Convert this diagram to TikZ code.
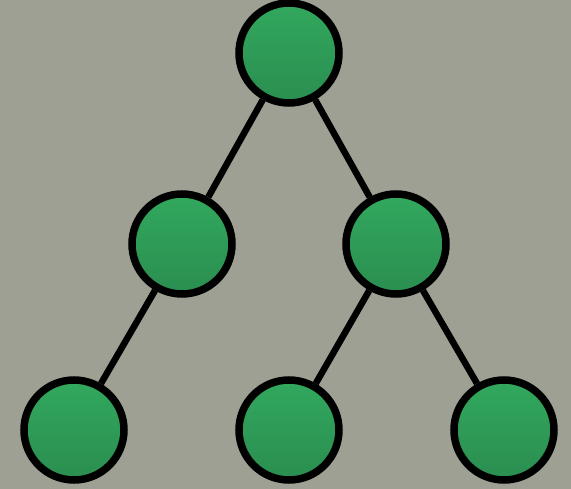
\documentclass[tikz,border=0pt]{standalone}
\usepackage{tikz}
\usetikzlibrary{positioning,calc}
\definecolor{bgrey}{RGB}{158,160,148}
\definecolor{leafhi}{RGB}{50,168,94}
\definecolor{leaflo}{RGB}{42,142,80}
\tikzset{vert/.style={circle,draw=black,line width=0.15cm,minimum size=2.0cm,inner sep=0pt,top color=leafhi,bottom color=leaflo},
	edg/.style={line width=0.13cm,black}}

\begin{document}
\begin{tikzpicture}
	   	\fill[bgrey] (0,0) rectangle (11.42,9.78);
	   	\useasboundingbox (0,0) rectangle (11.42,9.78);
	   	\def\lo{1.18}
	   	\def\mi{4.90}
	   	\node[vert] (r) at (5.78,8.72) {};
	   	\node[vert] (a) at (3.64,\mi) {};
	   	\node[vert] (b) at (7.92,\mi) {};
	   	\node[vert] (a1) at (1.48,\lo) {};
	   	\node[vert] (b1) at (5.78,\lo) {};
	   	\node[vert] (b2) at (10.08,\lo) {};
	   	\foreach \p/\c in {r/a,r/b,a/a1,b/b1,b/b2}{
	   			\draw[edg] (\p)--(\c);
	   	}
\end{tikzpicture}
\end{document}
